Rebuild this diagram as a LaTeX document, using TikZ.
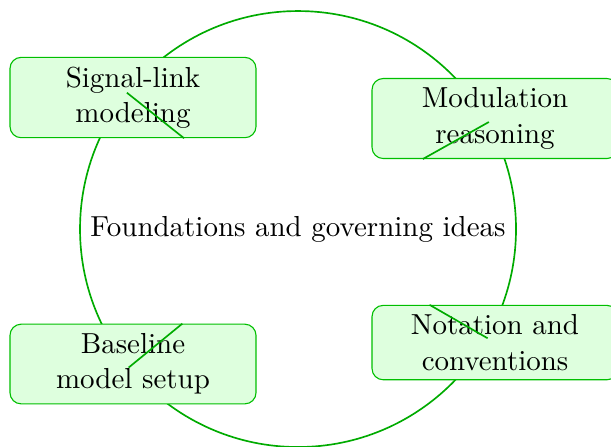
\documentclass[tikz,border=0pt]{standalone}
\usepackage{tikz}
\usetikzlibrary{positioning}

\colorlet{linegreen}{green!67!black}
\colorlet{boxline}{green!75!black}
\colorlet{boxfill}{green!13}

\begin{document}
\begin{tikzpicture}[semithick,
                    font = \fontsize{10.45}{12.8}\selectfont,
                    hub/.style   = {circle,
                                    draw = linegreen,
                                    text = black,
                                    minimum size = 5.53cm},
                    topic/.style = {rectangle,
                                    rounded corners,
                                    fill = boxfill,
                                    draw = boxline,
                                    thin,
                                    text = black,
                                    align = center,
                                    minimum width = 3.12cm}]

\useasboundingbox (-3.78,-2.752) rectangle (3.97,2.905);

\node[hub] (F) at (0,0) {Foundations and governing ideas};

\node[topic] (S) at (-2.093, 1.668) {Signal-link\\modeling};
\node[topic] (M) at (2.499, 1.402) {Modulation\\reasoning};
\node[topic] (B) at (-2.093,-1.712) {Baseline\\model setup};
\node[topic] (N) at (2.499,-1.440) {Notation and\\conventions};

\draw[linegreen] (F) -- (S);
\draw[linegreen] (F) -- (M);
\draw[linegreen] (F) -- (B);
\draw[linegreen] (F) -- (N);

\end{tikzpicture}
\end{document}
